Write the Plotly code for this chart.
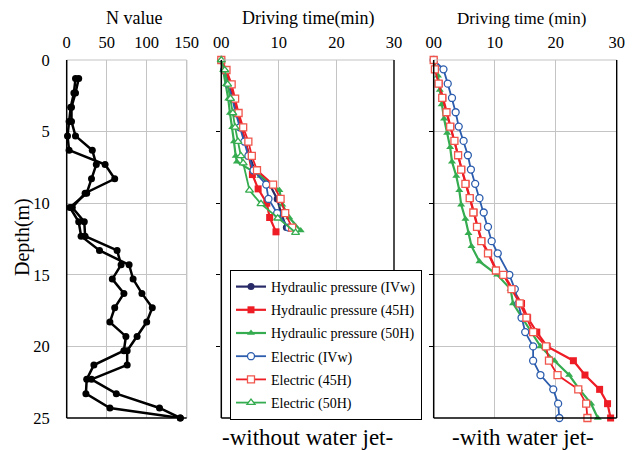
import plotly.graph_objects as go

# ---------------- data ----------------
# N value profile (two borings)
n_depth = [1.3, 2.3, 3.3, 4.3, 5.3, 6.3, 7.3, 8.3, 9.3, 10.3, 11.3, 12.3, 13.3,
           14.3, 15.3, 16.3, 17.3, 18.3, 19.3, 20.3, 21.3, 22.3, 23.3, 24.3, 25.0]
n_value_a = [15, 11, 6, 6, 11, 32, 37, 31, 25, 4, 15, 18, 41,
             78, 83, 94, 107, 100, 88, 75.6, 75.6, 31, 62, 116, 142]
n_value_b = [11, 9, 5, 3, 1, 3, 48, 60, 23, 7, 22, 23, 63,
             68, 57, 71.5, 60, 54, 74, 71.5, 34, 25, 24, 54, 142]

# without water jet (middle panel)
wo_depth = [0, 0.7, 1.7, 2.7, 3.7, 4.7, 5.7, 6.7, 7.7, 8.7, 9.7, 10.7, 11.7]
wo_hyd_ivw = [0, 0.6, 1.4, 2.0, 2.7, 3.4, 4.2, 4.9, 5.8, 8.4, 9.7, 10.4, 11.3]
wo_h45_depth = [0, 0.7, 1.7, 2.7, 3.7, 4.7, 5.7, 6.7, 8.0, 9.0, 10.0, 11.0, 12.0]
wo_hyd_45h = [0, 0.8, 1.6, 2.2, 2.9, 3.5, 4.2, 4.8, 5.4, 6.4, 7.9, 8.4, 9.5]
wo_h50_depth = [0, 0.7, 1.7, 2.7, 3.7, 4.7, 5.7, 6.7, 7.1, 8.1, 9.1, 10.1, 11.0, 11.9]
wo_hyd_50h = [0, 0.3, 0.8, 1.2, 1.5, 1.9, 2.2, 2.5, 2.7, 6.8, 10.1, 10.6, 11.8, 13.8]
wo_ele_ivw = [0, 0.5, 1.3, 1.9, 2.5, 3.2, 4.0, 4.7, 5.6, 7.8, 8.2, 9.7, 11.7]
wo_ele_45h = [0, 0.9, 1.8, 2.4, 3.0, 3.8, 4.7, 5.3, 6.2, 9.0, 10.3, 11.1, 12.3]
wo_e50_depth = [0, 0.7, 1.7, 2.7, 3.7, 4.7, 5.7, 6.7, 7.2, 9.1, 10.05, 11.05, 12.05]
wo_ele_50h = [0, 0.6, 1.1, 1.6, 2.0, 2.4, 2.9, 3.4, 3.8, 4.9, 6.9, 9.8, 12.9]

# with water jet (right panel)
w_ivw_depth = [0, 0.65, 1.65, 2.65, 3.65, 4.65, 5.65, 6.65, 7.65, 8.65, 9.65, 10.65,
               11.65, 12.65, 13.5, 15, 16, 17, 18, 19, 20, 21, 22, 23, 24, 25]
w_ele_ivw = [0, 1.6, 2.3, 3.0, 3.6, 4.1, 4.9, 5.6, 6.1, 6.8, 7.5, 8.2,
             8.9, 9.5, 10.5, 12.4, 13.3, 13.9, 14.4, 15.0, 16.3, 16.3, 17.5, 19.6, 20.4, 20.6]
w_45_depth = [0, 0.65, 1.65, 2.65, 3.65, 4.65, 5.65, 6.65, 7.65, 8.65, 9.65, 10.65,
              11.65, 12.65, 13.5, 14.7, 15, 16, 17, 18, 19, 20, 21, 22, 23, 24, 25]
w_ele_45h = [0, 0.2, 0.8, 1.4, 2.1, 2.7, 3.4, 4.0, 4.5, 5.2, 5.9, 6.5,
             7.1, 7.8, 8.9, 10.2, 11.4, 12.75, 14.1, 15.2, 16.3, 18.4, 18.9, 20.3, 23.7, 25.0, 25.2]
w_hyd_45h = [0, 0.3, 0.9, 1.5, 2.1, 2.8, 3.4, 4.0, 4.6, 5.3, 6.0, 6.6,
             7.2, 7.9, 9.0, 10.3, 11.5, 13.0, 14.4, 15.4, 16.9, 18.6, 22.9, 24.8, 27.2, 28.5, 29.0]
w_50_depth = [0, 1.1, 2.1, 3.1, 4.1, 5.1, 6.1, 7.1, 8.1, 9.1, 10.1, 11.1, 12.1,
              13.0, 14.07, 15, 16, 17, 18, 19, 20, 21, 22, 23, 24, 25]
w_hyd_50h = [0, 0.7, 1.0, 1.3, 1.7, 2.2, 2.7, 3.0, 3.7, 4.2, 4.5, 5.2, 5.7,
             6.2, 7.5, 10.4, 12.6, 13.0, 14.5, 16.0, 17.5, 19.8, 22.2, 23.9, 25.8, 26.9]

n_ticks = [0, 50, 100, 150]
t_ticks = [0, 10, 20, 30]
t_ticktext = ["00", "10", "20", "30"]
depth_ticks = [0, 5, 10, 15, 20, 25]

# ---------------- style ----------------
FONT = "Liberation Serif"
NAVY = "#272a66"
RED = "#ee1c25"
RED_OPEN = "#f0564c"
GREEN = "#35ac4f"
BLUE = "#2b5cad"
GRID = "#c4c4c4"

# page has an 8px body margin: figure is 632x442 placed at (8, 8)
W, H, OFF = 632, 442, 8
def px(x):
    return (x - OFF) / W
def py(y):
    return 1 - (y - OFF) / H

fig = go.Figure()

for nv in (n_value_a, n_value_b):
    fig.add_trace(go.Scatter(x=nv, y=n_depth, mode="lines+markers",
                             line=dict(color="black", width=2.5),
                             marker=dict(color="black", size=7),
                             showlegend=False, cliponaxis=False,
                             xaxis="x", yaxis="y"))

def filled(name, x, y, color, symbol, ax, show):
    fig.add_trace(go.Scatter(x=x, y=y, mode="lines+markers", name=name,
                             legendgroup=name, showlegend=show,
                             line=dict(color=color, width=2.2),
                             marker=dict(color=color, size=7, symbol=symbol,
                                         line=dict(width=0)),
                             cliponaxis=False, xaxis="x" + ax, yaxis="y" + ax))

def opened(name, x, y, color, mcolor, symbol, ax, show):
    fig.add_trace(go.Scatter(x=x, y=y, mode="lines+markers", name=name,
                             legendgroup=name, showlegend=show,
                             line=dict(color=color, width=1.8),
                             marker=dict(color="white", size=7, symbol=symbol,
                                         line=dict(color=mcolor, width=1.3)),
                             cliponaxis=False, xaxis="x" + ax, yaxis="y" + ax))

# middle panel (legend entries)
filled("Hydraulic pressure (IVw)", wo_hyd_ivw, wo_depth, NAVY, "circle", "2", True)
filled("Hydraulic pressure (45H)", wo_hyd_45h, wo_h45_depth, RED, "square", "2", True)
filled("Hydraulic pressure (50H)", wo_hyd_50h, wo_h50_depth, GREEN, "triangle-up", "2", True)
opened("Electric (IVw)", wo_ele_ivw, wo_depth, BLUE, BLUE, "circle", "2", True)
opened("Electric (45H)", wo_ele_45h, wo_depth, RED, RED_OPEN, "square", "2", True)
opened("Electric (50H)", wo_ele_50h, wo_e50_depth, GREEN, GREEN, "triangle-up", "2", True)

# right panel
filled("Hydraulic pressure (45H)", w_hyd_45h, w_45_depth, RED, "square", "3", False)
filled("Hydraulic pressure (50H)", w_hyd_50h, w_50_depth, GREEN, "triangle-up", "3", False)
opened("Electric (IVw)", w_ele_ivw, w_ivw_depth, BLUE, BLUE, "circle", "3", False)
opened("Electric (45H)", w_ele_45h, w_45_depth, RED, RED_OPEN, "square", "3", False)

YDOM = [py(418), py(60)]
tickfont = dict(family=FONT, size=16.5, color="black")

def xaxis_cfg(dom, rng, vals, text=None):
    d = dict(domain=dom, range=rng, side="top", tickvals=vals, showgrid=True,
             gridcolor=GRID, gridwidth=1, zeroline=False, showline=False,
             ticks="", tickfont=tickfont, ticklabelstandoff=8, automargin=False,
             fixedrange=True)
    if text:
        d["ticktext"] = text
    return d

fig.update_layout(
    width=W, height=H,
    margin=dict(l=0, r=0, t=0, b=0),
    paper_bgcolor="white", plot_bgcolor="white",
    font=dict(family=FONT, color="black"),
    xaxis=xaxis_cfg([px(66.7), px(186.7)], [0, 150], n_ticks),
    yaxis=dict(domain=YDOM, range=[25, 0], tickvals=depth_ticks, showgrid=True,
               gridcolor=GRID, zeroline=False, showline=False, ticks="",
               tickfont=tickfont, ticklabelstandoff=16, automargin=False),
    xaxis2=xaxis_cfg([px(221.3), px(394)], [0, 30], t_ticks, t_ticktext),
    yaxis2=dict(domain=YDOM, range=[25, 0], anchor="x2", tickvals=[5, 10, 15, 20],
                showgrid=False, zeroline=False, showline=False, ticks="outside",
                ticklen=4, tickcolor="black", showticklabels=False, automargin=False),
    xaxis3=xaxis_cfg([px(433.7), px(616.7)], [0, 30], t_ticks, t_ticktext),
    yaxis3=dict(domain=YDOM, range=[25, 0], anchor="x3", tickvals=[5, 10, 15, 20],
                showgrid=True, gridcolor=GRID, zeroline=False, showline=False,
                ticks="outside", ticklen=4, tickcolor="black",
                showticklabels=False, automargin=False),
    legend=dict(x=px(230), y=py(270), xanchor="left", yanchor="top",
                bgcolor="white", bordercolor="black", borderwidth=1,
                tracegroupgap=2, itemwidth=30,
                font=dict(family=FONT, size=14, color="black")),
)
fig.update_layout(xaxis2_anchor="y2", xaxis3_anchor="y3")

shapes = []
for i, right_col in ((1, GRID), (2, "black"), (3, "black")):
    xr = "x domain" if i == 1 else f"x{i} domain"
    yr = "y domain" if i == 1 else f"y{i} domain"
    shapes += [
        dict(type="line", xref=xr, yref=yr, x0=0, x1=1, y0=1, y1=1,
             line=dict(color=GRID, width=1.2)),
        dict(type="line", xref=xr, yref=yr, x0=1, x1=1, y0=0, y1=1,
             line=dict(color=right_col, width=1.4)),
        dict(type="line", xref=xr, yref=yr, x0=0, x1=1, y0=0, y1=0,
             line=dict(color="black", width=1.5)),
        dict(type="line", xref=xr, yref=yr, x0=0, x1=0, y0=0, y1=1,
             line=dict(color="black", width=1.5)),
    ]
fig.update_layout(shapes=shapes)

ann = [
    dict(text="N value", x=134, y=18, size=18, angle=0),
    dict(text="Driving time(min)", x=308, y=18, size=18, angle=0),
    dict(text="Driving time (min)", x=521, y=18, size=17, angle=0),
    dict(text="Depth(m)", x=22, y=237, size=20, angle=-90),
    dict(text="-without water jet-", x=307, y=437, size=23, angle=0),
    dict(text="-with water jet-", x=523, y=437, size=23, angle=0),
]
fig.update_layout(annotations=[
    dict(text=a["text"], x=px(a["x"]), y=py(a["y"]), xref="paper", yref="paper",
         xanchor="center", yanchor="middle", showarrow=False, textangle=a["angle"],
         font=dict(family=FONT, size=a["size"], color="black"))
    for a in ann
])

fig.write_html("out.html")
